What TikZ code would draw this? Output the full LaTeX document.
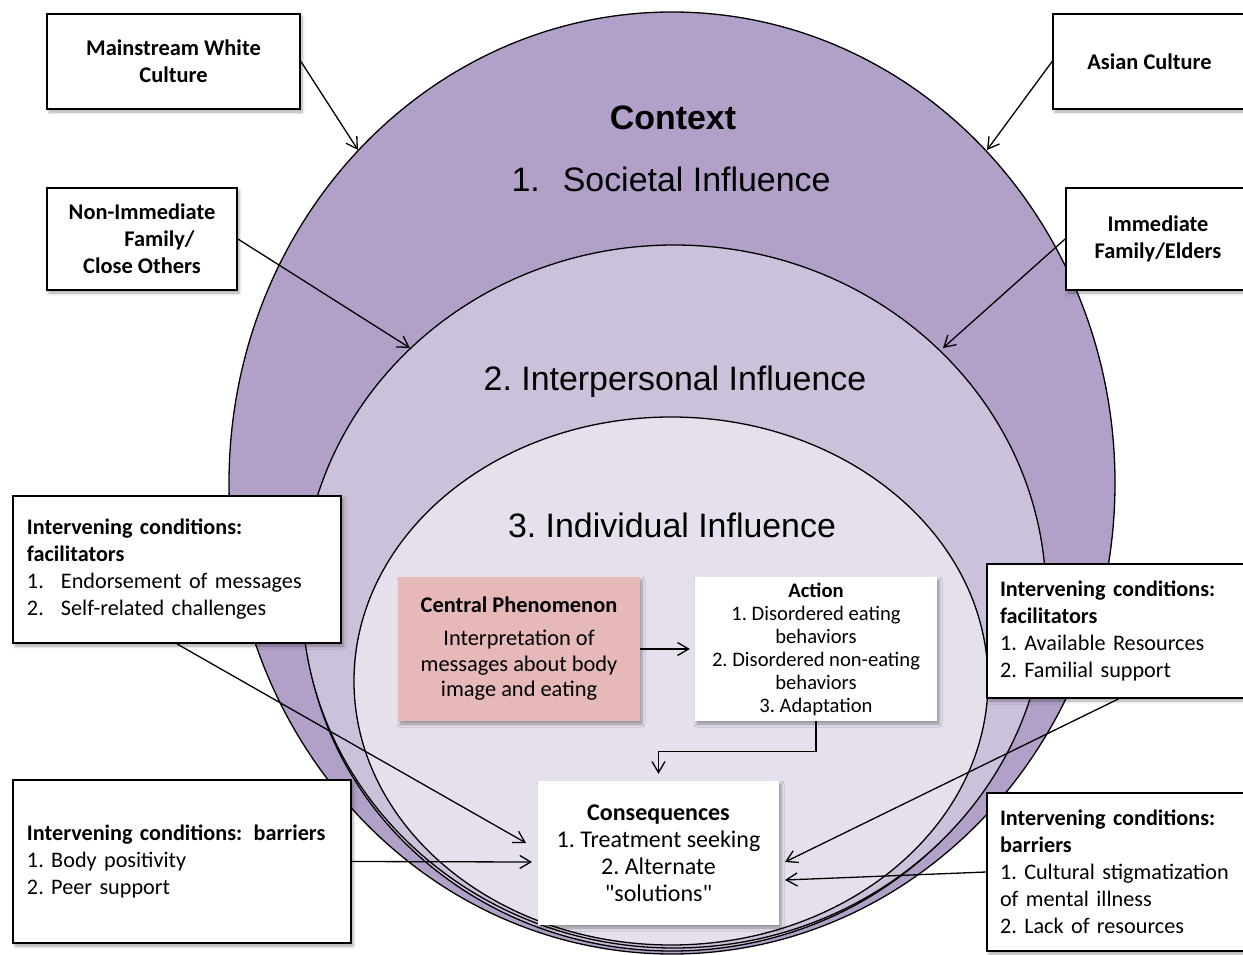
\documentclass[tikz,border=0pt]{standalone}
\usepackage{fontspec}
\setmainfont{Carlito}
\newfontfamily\arialfont{Liberation Sans}
\usetikzlibrary{arrows.meta,shadows.blur}
\frenchspacing

\definecolor{ctxpurple}{HTML}{B1A0C7}
\definecolor{interpurple}{HTML}{CCC1DA}
\definecolor{indivpurple}{HTML}{E5E0EC}
\definecolor{phenopink}{HTML}{E6B9B8}

\begin{document}
\begin{tikzpicture}[
  x=1pt, y=-1pt,
  >={Straight Barb[length=11pt,width=13pt]},
  ring/.style={draw=black, line width=1.3pt},
  title text/.style={font=\arialfont\fontsize{33.9}{38}\selectfont, anchor=base, inner sep=0pt},
  soft shadow/.style={blur shadow={shadow xshift=2pt, shadow yshift=-3pt,
    shadow blur radius=3pt, shadow opacity=35}},
  source box/.style={draw, line width=1.8pt, fill=white, align=center, inner sep=0pt,
    font=\bfseries\fontsize{22.4}{27}\selectfont, soft shadow},
  cond box/.style={draw, line width=1.8pt, fill=white, align=left, inner ysep=0pt,
    inner xsep=14pt, font=\fontsize{22.2}{27}\selectfont, soft shadow},
  core box/.style={fill=white, align=center, inner sep=0pt, soft shadow,
    minimum width=242, minimum height=144},
  influence/.style={->, line width=1.3pt}
]
\clip (0,0) rectangle (1243,955);

% nested spheres of influence
\draw[ring, fill=ctxpurple] (672,483) ellipse [x radius=443, y radius=471];
\draw[ring, fill=interpurple] (672,604.5) ellipse [x radius=368, y radius=346.5];
\draw[ring, fill=interpurple] (674,596.5) ellipse [x radius=372, y radius=351.5];
\draw[ring, fill=indivpurple] (671,681) ellipse [x radius=317, y radius=264];

\node[title text] (context) at (673,130) {\bfseries Context};
\node[title text] (societal) at (671,192) {1.\hspace{0.68em}Societal Influence};
\node[title text] (interpersonal) at (675,390) {2. Interpersonal Influence};
\node[title text] (individual) at (672,537) {3. Individual Influence};

% outside sources
\node[source box, minimum width=253, minimum height=95] (mwc) at (173.5,61.5)
  {Mainstream White\\Culture};
\node[source box, minimum width=193, minimum height=95] (asian) at (1149.5,61.5)
  {Asian Culture};
\node[source box, minimum width=190, minimum height=102] (nonimm) at (142,239)
  {Non-Immediate\\\hspace*{35pt}Family/\\Close Others};
\node[source box, minimum width=184, minimum height=102] (immed) at (1158,239)
  {Immediate\\Family/Elders};

\coordinate (mwc tip) at (358,150);
\coordinate (asian tip) at (987,150);
\coordinate (nonimm tip) at (410,348);
\coordinate (immed tip) at (943,348);

\draw[influence] (mwc.east) -- (mwc tip);
\draw[influence] (asian.west) -- (asian tip);
\draw[influence] (nonimm.east) -- (nonimm tip);
\draw[influence] (immed.west) -- (immed tip);

% core process
\node[core box, fill=phenopink, font=\fontsize{22.4}{25.5}\selectfont] (pheno) at (519,649)
  {\bfseries Central Phenomenon\\[7.5pt]Interpretation of\\messages about body\\image and eating};
\node[core box, font=\fontsize{20.6}{23}\selectfont] (action) at (816,649)
  {\bfseries Action\\1. Disordered eating\\behaviors\\2. Disordered non-eating\\behaviors\\3. Adaptation};
\node[core box, minimum width=241, font=\fontsize{24}{27}\selectfont] (cons) at (658.5,853)
  {\bfseries Consequences\\1. Treatment seeking\\2. Alternate\\\textquotedbl solutions\textquotedbl};

\draw[influence, shorten >=5pt] (pheno.east) -- (action.west);
\draw[influence, shorten >=7pt] (action.south) -- ++(0,30) -| (cons.north);

% intervening conditions
\node[cond box, text width=300, minimum height=147] (lfac) at (177,569.5)
  {\textbf{Intervening conditions:}\\\textbf{facilitators}\\
   \makebox[34pt][l]{1.}Endorsement of messages\\\makebox[34pt][l]{2.}Self-related challenges};
\node[cond box, text width=310, minimum height=163] (lbar) at (182,861.5)
  {\textbf{Intervening conditions:\hspace{4pt} barriers}\\1. Body positivity\\2. Peer support};
\node[cond box, inner xsep=13pt, text width=237, minimum height=134] (rfac) at (1118.5,631)
  {\textbf{Intervening conditions:}\\\textbf{facilitators}\\1. Available Resources\\2. Familial support};
\node[cond box, inner xsep=13pt, text width=237, minimum height=158] (rbar) at (1118.5,872)
  {\textbf{Intervening conditions:}\\\textbf{barriers}\\1. Cultural stigmatization\\of mental illness\\2. Lack of resources};

\coordinate (lfac tip) at (526,843);
\coordinate (lbar tip) at (532,862);
\coordinate (rfac tip) at (785,862);
\coordinate (rbar tip) at (785,880);

\draw[influence] (lfac.south) -- (lfac tip);
\draw[influence] (lbar.east) -- (lbar tip);
\draw[influence] (rfac.south) -- (rfac tip);
\draw[influence] (rbar.west) -- (rbar tip);
\end{tikzpicture}
\end{document}
